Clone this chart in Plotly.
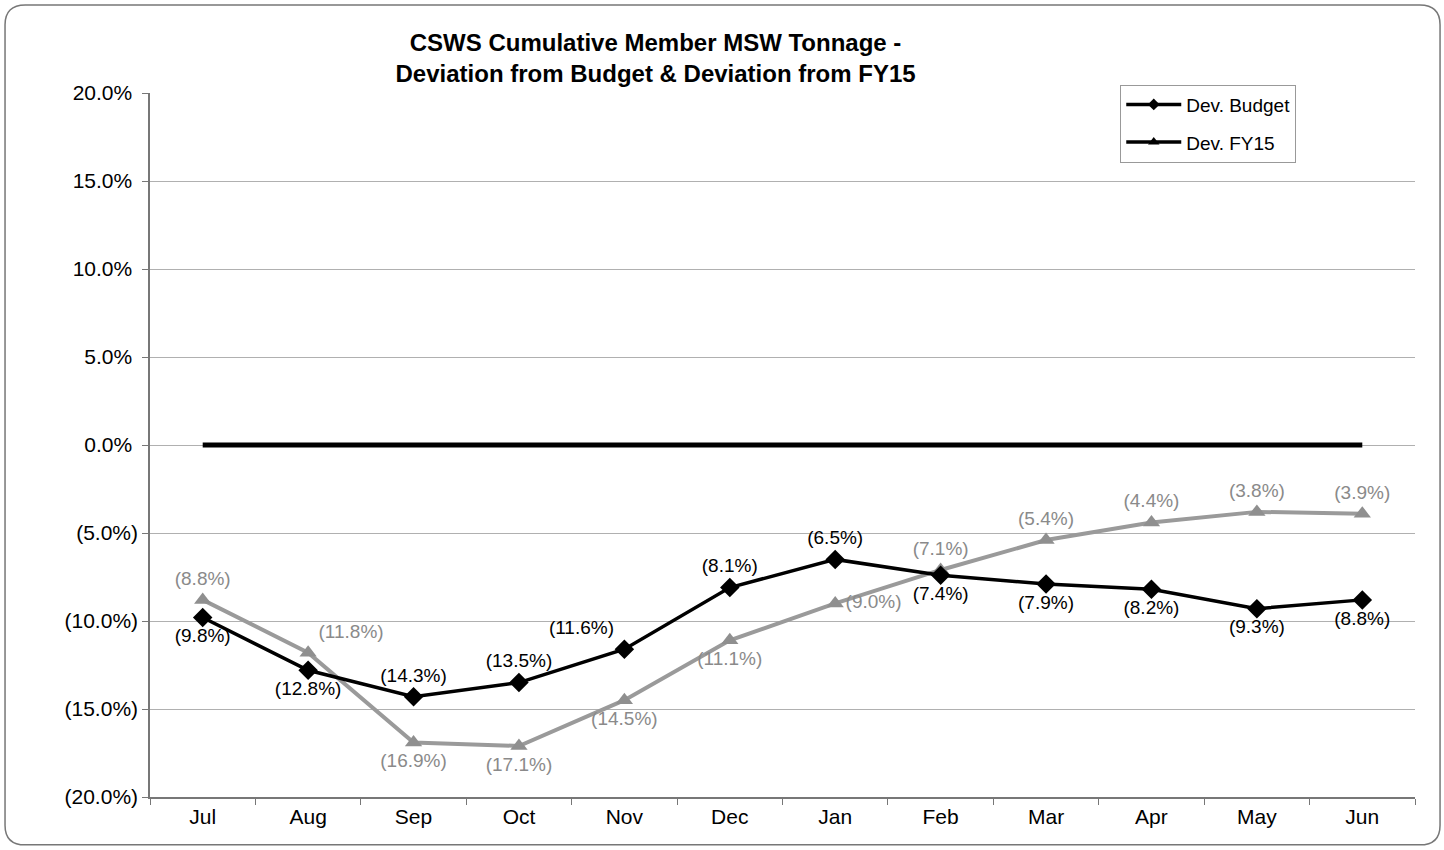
import plotly.graph_objects as go

months = ["Jul", "Aug", "Sep", "Oct", "Nov", "Dec", "Jan", "Feb", "Mar", "Apr", "May", "Jun"]
dev_budget = [-9.8, -12.8, -14.3, -13.5, -11.6, -8.1, -6.5, -7.4, -7.9, -8.2, -9.3, -8.8]
dev_fy15 = [-8.8, -11.8, -16.9, -17.1, -14.5, -11.1, -9.0, -7.1, -5.4, -4.4, -3.8, -3.9]
zero_line = [0.0] * 12
y_ticks = [20, 15, 10, 5, 0, -5, -10, -15, -20]


def fmt(v):
    return f"({abs(v):.1f}%)" if v < 0 else f"{v:.1f}%"


def tick_fmt(v):
    # Excel-style accounting format: positives padded to align with ")"
    return f"({abs(v):.1f}%)" if v < 0 else f"{v:.1f}%\u00a0"


budget_pos = ["bottom center", "bottom center", "top center", "top center", "top left",
              "top center", "top center", "bottom center", "bottom center", "bottom center",
              "bottom center", "bottom center"]
fy15_pos = ["top center", "top right", "bottom center", "bottom center", "bottom center",
            "bottom center", "middle right", "top center", "top center", "top center",
            "top center", "top center"]

FONT = "Liberation Sans, Arial, sans-serif"
GREY = "#9a9a9a"

fig = go.Figure()

fig.add_trace(go.Scatter(
    x=months, y=zero_line, mode="lines",
    line=dict(color="black", width=5), showlegend=False, hoverinfo="skip"))

fig.add_trace(go.Scatter(
    x=months, y=dev_fy15, mode="lines+markers+text", name="Dev. FY15",
    line=dict(color=GREY, width=4),
    marker=dict(symbol="triangle-up", size=15, color="#8f8f8f"),
    text=[fmt(v) for v in dev_fy15], textposition=fy15_pos,
    textfont=dict(family=FONT, size=19, color="#8a8a8a"),
    cliponaxis=False, showlegend=False))

fig.add_trace(go.Scatter(
    x=months, y=dev_budget, mode="lines+markers+text", name="Dev. Budget",
    line=dict(color="black", width=3.5),
    marker=dict(symbol="diamond", size=15, color="black"),
    text=[fmt(v) for v in dev_budget], textposition=budget_pos,
    textfont=dict(family=FONT, size=19, color="black"),
    cliponaxis=False, showlegend=False))

# legend entries (as in the reference both drawn black)
fig.add_trace(go.Scatter(
    x=[None], y=[None], mode="lines+markers", name="Dev. Budget", legendgroup="a",
    line=dict(color="black", width=3.5), marker=dict(symbol="diamond", size=9, color="black")))
fig.add_trace(go.Scatter(
    x=[None], y=[None], mode="lines+markers", name="Dev. FY15", legendgroup="b",
    line=dict(color="black", width=3.5), marker=dict(symbol="triangle-up", size=10, color="black")))

x0, x1 = -0.1146, 1.0198
y0, y1 = -0.068, 1.125
rx, ry = 0.016, 0.028
path = (f"M {x0+rx},{y0} L {x1-rx},{y0} Q {x1},{y0} {x1},{y0+ry} "
        f"L {x1},{y1-ry} Q {x1},{y1} {x1-rx},{y1} L {x0+rx},{y1} "
        f"Q {x0},{y1} {x0},{y1-ry} L {x0},{y0+ry} Q {x0},{y0} {x0+rx},{y0} Z")

fig.update_layout(
    width=1444, height=850,
    paper_bgcolor="white", plot_bgcolor="white",
    margin=dict(l=150, r=29, t=93, b=53),
    font=dict(family=FONT, color="black"),
    title=dict(
        text="<b>CSWS Cumulative Member MSW Tonnage -<br>Deviation from Budget & Deviation from FY15</b>",
        x=0.454, xanchor="center", y=0.940, yanchor="middle",
        font=dict(family=FONT, size=24, color="black")),
    legend=dict(
        x=0.767, y=1.012, xanchor="left", yanchor="top",
        bordercolor="#999", borderwidth=1, bgcolor="white",
        font=dict(family=FONT, size=19, color="black"),
        traceorder="grouped", tracegroupgap=10, itemwidth=55),
    shapes=[dict(type="path", path=path, xref="paper", yref="paper",
                 line=dict(color="#777", width=1.5), layer="below")],
    xaxis=dict(
        type="category", range=[-0.5, 11.5],
        showgrid=False, showline=True, linecolor="#777", linewidth=1.5,
        ticks="outside", tickson="boundaries", ticklen=6, tickcolor="#777",
        tickfont=dict(family=FONT, size=21, color="black")),
    yaxis=dict(
        range=[-20, 20], tickvals=y_ticks, ticktext=[tick_fmt(v) for v in y_ticks],
        showgrid=True, gridcolor="#b0b0b0", gridwidth=1,
        zeroline=False, showline=True, linecolor="#777", linewidth=1.5,
        ticks="outside", ticklen=6, tickcolor="#777",
        tickfont=dict(family=FONT, size=21, color="black")),
)

fig.write_html("out.html", post_script="document.body.style.margin='0';",
               config={"displayModeBar": False})
